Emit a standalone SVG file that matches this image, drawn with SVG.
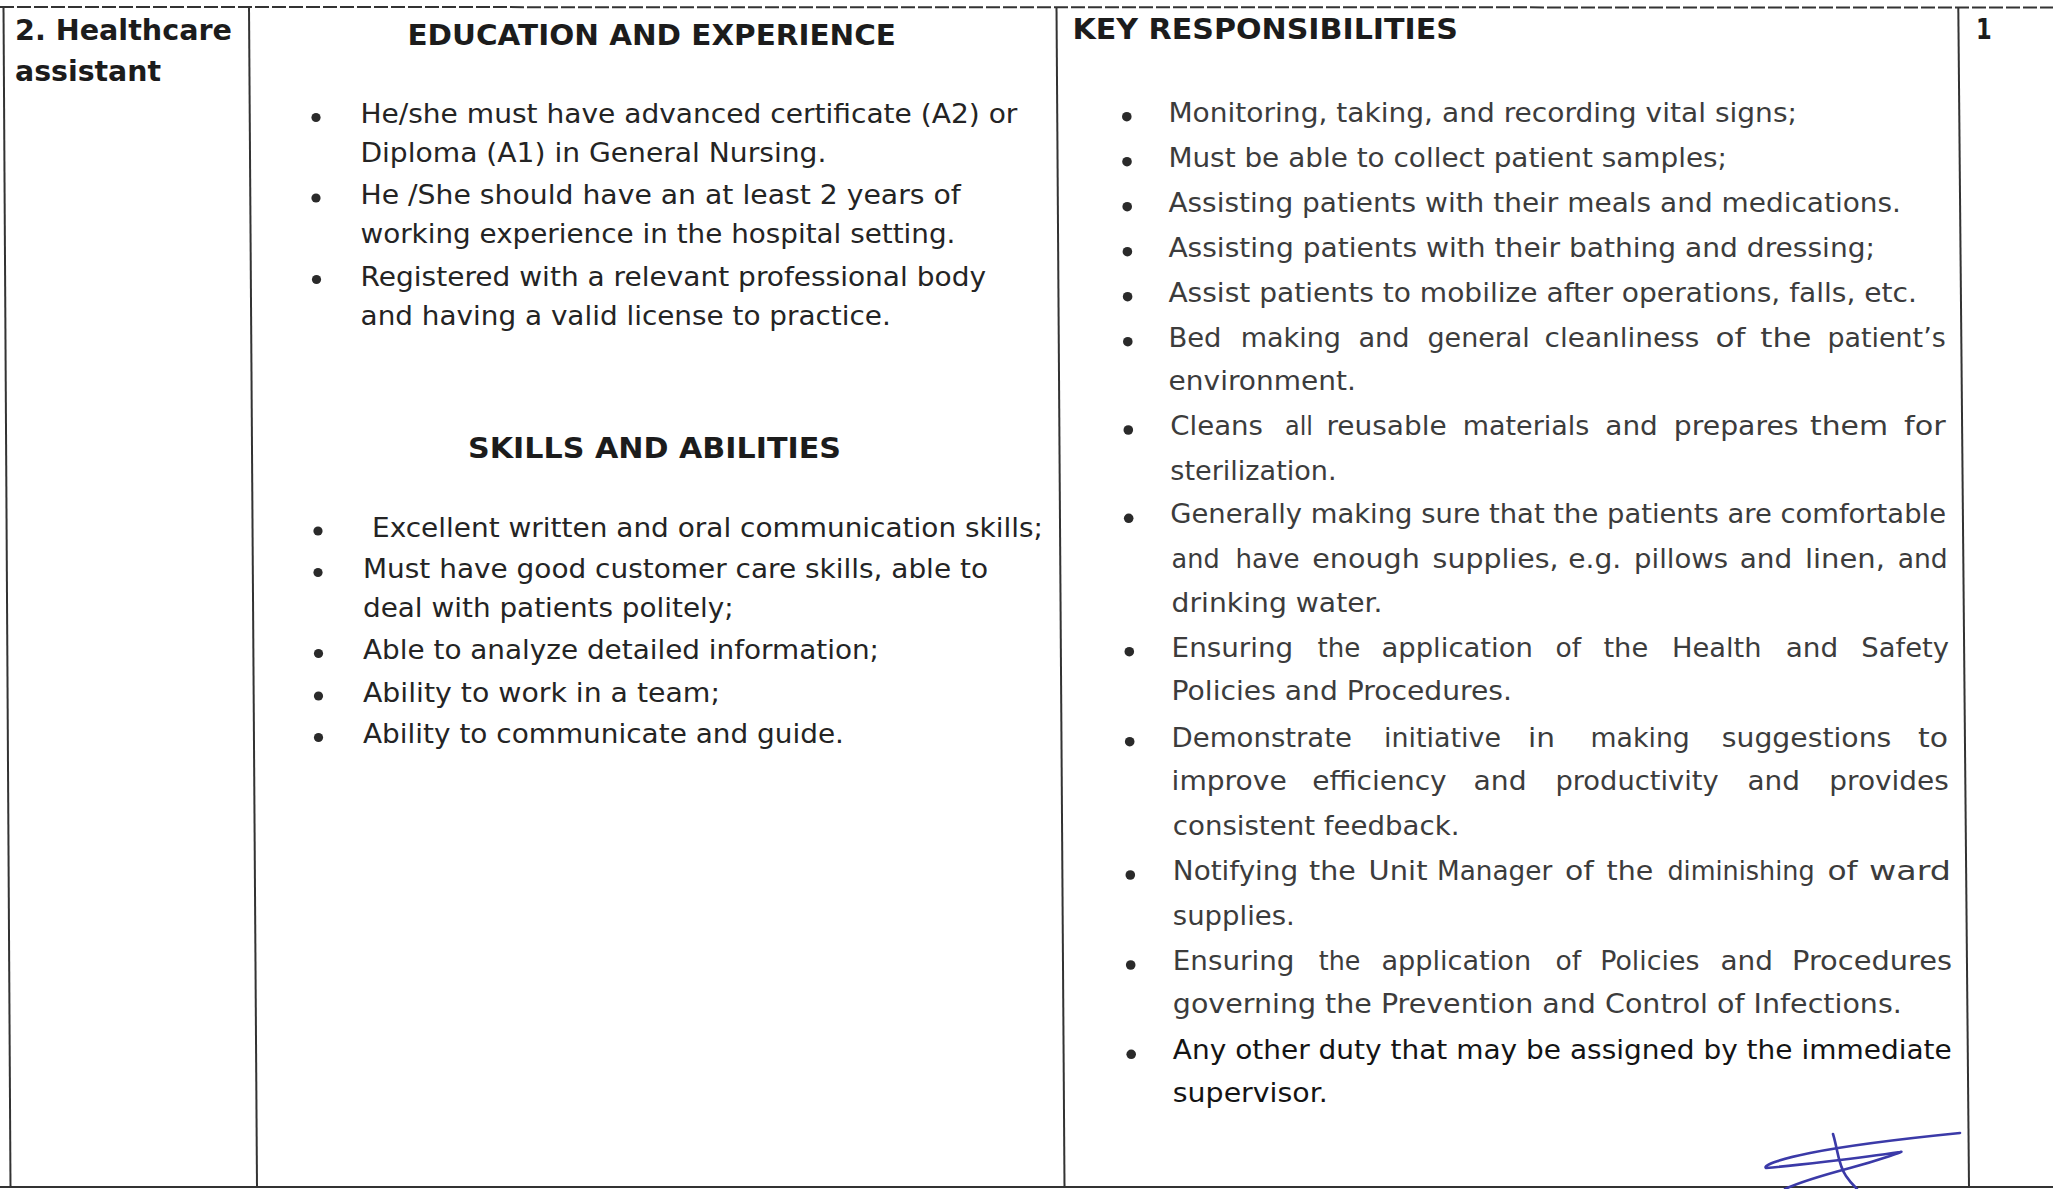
<svg xmlns="http://www.w3.org/2000/svg" width="2053" height="1189" viewBox="0 0 2053 1189">
<style>
.h{font-family:"DejaVu Sans","Liberation Sans",sans-serif;font-weight:bold;font-size:28px;fill:#1c1c1c}
.b{font-family:"DejaVu Sans","Liberation Sans",sans-serif;font-size:26px;fill:#242424}
.k{fill:#3c3c3c}
.d{fill:#141414}
.bu{fill:#2a2a2a}
.grid{stroke:#333;stroke-width:2;fill:none}
.sig{stroke:#3b3aa8;stroke-width:2.6;fill:none;stroke-linecap:round;stroke-linejoin:round}
</style>
<rect width="2053" height="1189" fill="#fff"/>
<g id="table-grid">
<line class="grid" x1="0" y1="7" x2="2053" y2="7.5" stroke="#555" stroke-dasharray="14 3"/>
<line class="grid" x1="0" y1="1187" x2="2053" y2="1187" stroke-width="3" stroke="#444"/>
<line class="grid" x1="3.5" y1="7" x2="10.5" y2="1187"/>
<line class="grid" x1="249" y1="7" x2="257" y2="1187"/>
<line class="grid" x1="1056.5" y1="7" x2="1064.5" y2="1187"/>
<line class="grid" x1="1958.3" y1="7" x2="1969" y2="1187"/>
</g>
<g id="cell-position">
<text class="h" x="15" y="40" textLength="217" lengthAdjust="spacingAndGlyphs">2. Healthcare</text>
<text class="h" x="15" y="81" textLength="146" lengthAdjust="spacingAndGlyphs">assistant</text>
</g>
<g id="cell-education">
<text class="h" x="407.5" y="45.3" textLength="488.5" lengthAdjust="spacingAndGlyphs">EDUCATION AND EXPERIENCE</text>
<circle class="bu" cx="316" cy="117.5" r="4.6"/>
<circle class="bu" cx="316" cy="198" r="4.6"/>
<circle class="bu" cx="316.5" cy="279.5" r="4.6"/>
<text class="b" x="360.4" y="123.3" textLength="657" lengthAdjust="spacingAndGlyphs">He/she must have advanced certificate (A2) or</text>
<text class="b" x="360.4" y="162.3" textLength="466" lengthAdjust="spacingAndGlyphs">Diploma (A1) in General Nursing.</text>
<text class="b" x="360.4" y="204" textLength="600.4" lengthAdjust="spacingAndGlyphs">He /She should have an at least 2 years of</text>
<text class="b" x="360.4" y="243" textLength="595" lengthAdjust="spacingAndGlyphs">working experience in the hospital setting.</text>
<text class="b" x="360.6" y="285.7" textLength="625.4" lengthAdjust="spacingAndGlyphs">Registered with a relevant professional body</text>
<text class="b" x="360.6" y="325" textLength="530.2" lengthAdjust="spacingAndGlyphs">and having a valid license to practice.</text>
</g>
<g id="cell-skills">
<text class="h" x="468" y="458.3" textLength="373" lengthAdjust="spacingAndGlyphs">SKILLS AND ABILITIES</text>
<circle class="bu" cx="318" cy="531" r="4.6"/>
<circle class="bu" cx="318" cy="572.5" r="4.6"/>
<circle class="bu" cx="318.5" cy="653.5" r="4.6"/>
<circle class="bu" cx="318.5" cy="696" r="4.6"/>
<circle class="bu" cx="318.5" cy="737.5" r="4.6"/>
<text class="b" x="372" y="536.7" textLength="671" lengthAdjust="spacingAndGlyphs">Excellent written and oral communication skills;</text>
<text class="b" x="363" y="578.3" textLength="625" lengthAdjust="spacingAndGlyphs">Must have good customer care skills, able to</text>
<text class="b" x="363" y="616.7" textLength="370.7" lengthAdjust="spacingAndGlyphs">deal with patients politely;</text>
<text class="b" x="363" y="659.3" textLength="516" lengthAdjust="spacingAndGlyphs">Able to analyze detailed information;</text>
<text class="b" x="363" y="701.7" textLength="357" lengthAdjust="spacingAndGlyphs">Ability to work in a team;</text>
<text class="b" x="363" y="743.3" textLength="481" lengthAdjust="spacingAndGlyphs">Ability to communicate and guide.</text>
</g>
<g id="cell-responsibilities">
<text class="h" x="1072.4" y="39.3" textLength="385.6" lengthAdjust="spacingAndGlyphs">KEY RESPONSIBILITIES</text>
<g class="bu">
<circle cx="1126.8" cy="116.7" r="4.8"/>
<circle cx="1127" cy="161.7" r="4.8"/>
<circle cx="1127.2" cy="206.7" r="4.8"/>
<circle cx="1127.4" cy="251.7" r="4.8"/>
<circle cx="1127.6" cy="296.7" r="4.8"/>
<circle cx="1127.8" cy="341.7" r="4.8"/>
<circle cx="1128.3" cy="430" r="4.8"/>
<circle cx="1128.7" cy="518.3" r="4.8"/>
<circle cx="1129.3" cy="651.7" r="4.8"/>
<circle cx="1129.7" cy="741.7" r="4.8"/>
<circle cx="1130.3" cy="875" r="4.8"/>
<circle cx="1130.7" cy="965" r="4.8"/>
<circle cx="1131.2" cy="1054.3" r="4.8"/>
</g>
<text class="b k" x="1168.4" y="121.7" textLength="628.6" lengthAdjust="spacingAndGlyphs">Monitoring, taking, and recording vital signs;</text>
<text class="b k" x="1168.4" y="166.7" textLength="558.6" lengthAdjust="spacingAndGlyphs">Must be able to collect patient samples;</text>
<text class="b k" x="1168.4" y="211.7" textLength="732.6" lengthAdjust="spacingAndGlyphs">Assisting patients with their meals and medications.</text>
<text class="b k" x="1168.4" y="256.7" textLength="706.6" lengthAdjust="spacingAndGlyphs">Assisting patients with their bathing and dressing;</text>
<text class="b k" x="1168.4" y="301.7" textLength="748.6" lengthAdjust="spacingAndGlyphs">Assist patients to mobilize after operations, falls, etc.</text>
<text class="b k" y="346.7"><tspan x="1168.4" textLength="53.1" lengthAdjust="spacingAndGlyphs">Bed</tspan> <tspan x="1240.7" textLength="100.3" lengthAdjust="spacingAndGlyphs">making</tspan> <tspan x="1358.4" textLength="51.2" lengthAdjust="spacingAndGlyphs">and</tspan> <tspan x="1427.5" textLength="102.3" lengthAdjust="spacingAndGlyphs">general</tspan> <tspan x="1544.6" textLength="154.8" lengthAdjust="spacingAndGlyphs">cleanliness</tspan> <tspan x="1715.4" textLength="30" lengthAdjust="spacingAndGlyphs">of</tspan> <tspan x="1760.2" textLength="51.1" lengthAdjust="spacingAndGlyphs">the</tspan> <tspan x="1827.5" textLength="118.2" lengthAdjust="spacingAndGlyphs">patient’s</tspan></text>
<text class="b k" x="1168.6" y="390" textLength="187.2" lengthAdjust="spacingAndGlyphs">environment.</text>
<text class="b k" y="435"><tspan x="1170.3" textLength="92.7" lengthAdjust="spacingAndGlyphs">Cleans</tspan> <tspan x="1285" textLength="28" lengthAdjust="spacingAndGlyphs">all</tspan> <tspan x="1326.4" textLength="120.3" lengthAdjust="spacingAndGlyphs">reusable</tspan> <tspan x="1462.7" textLength="126.6" lengthAdjust="spacingAndGlyphs">materials</tspan> <tspan x="1605.3" textLength="52.5" lengthAdjust="spacingAndGlyphs">and</tspan> <tspan x="1673.8" textLength="124.8" lengthAdjust="spacingAndGlyphs">prepares</tspan> <tspan x="1810" textLength="78" lengthAdjust="spacingAndGlyphs">them</tspan> <tspan x="1904" textLength="41.7" lengthAdjust="spacingAndGlyphs">for</tspan></text>
<text class="b k" x="1170.3" y="480" textLength="166.3" lengthAdjust="spacingAndGlyphs">sterilization.</text>
<text class="b k" x="1170.3" y="523.3" textLength="775.7" lengthAdjust="spacingAndGlyphs">Generally making sure that the patients are comfortable</text>
<text class="b k" y="568.3"><tspan x="1171.6" textLength="48" lengthAdjust="spacingAndGlyphs">and</tspan> <tspan x="1235.5" textLength="64" lengthAdjust="spacingAndGlyphs">have</tspan> <tspan x="1312.3" textLength="107.5" lengthAdjust="spacingAndGlyphs">enough</tspan> <tspan x="1432.6" textLength="126" lengthAdjust="spacingAndGlyphs">supplies,</tspan> <tspan x="1568.2" textLength="53" lengthAdjust="spacingAndGlyphs">e.g.</tspan> <tspan x="1634.1" textLength="94" lengthAdjust="spacingAndGlyphs">pillows</tspan> <tspan x="1739.7" textLength="52.5" lengthAdjust="spacingAndGlyphs">and</tspan> <tspan x="1804.9" textLength="80" lengthAdjust="spacingAndGlyphs">linen,</tspan> <tspan x="1897.7" textLength="50" lengthAdjust="spacingAndGlyphs">and</tspan></text>
<text class="b k" x="1171.6" y="611.7" textLength="211" lengthAdjust="spacingAndGlyphs">drinking water.</text>
<text class="b k" y="656.7"><tspan x="1171.6" textLength="121.6" lengthAdjust="spacingAndGlyphs">Ensuring</tspan> <tspan x="1317.4" textLength="42.9" lengthAdjust="spacingAndGlyphs">the</tspan> <tspan x="1381.4" textLength="151.6" lengthAdjust="spacingAndGlyphs">application</tspan> <tspan x="1555.4" textLength="25.6" lengthAdjust="spacingAndGlyphs">of</tspan> <tspan x="1603.4" textLength="44.8" lengthAdjust="spacingAndGlyphs">the</tspan> <tspan x="1671.9" textLength="89.6" lengthAdjust="spacingAndGlyphs">Health</tspan> <tspan x="1785.7" textLength="52.5" lengthAdjust="spacingAndGlyphs">and</tspan> <tspan x="1861.3" textLength="87.7" lengthAdjust="spacingAndGlyphs">Safety</tspan></text>
<text class="b k" x="1171.6" y="700" textLength="340.4" lengthAdjust="spacingAndGlyphs">Policies and Procedures.</text>
<text class="b k" y="746.7"><tspan x="1171.6" textLength="180.4" lengthAdjust="spacingAndGlyphs">Demonstrate</tspan> <tspan x="1384" textLength="117.1" lengthAdjust="spacingAndGlyphs">initiative</tspan> <tspan x="1528" textLength="27" lengthAdjust="spacingAndGlyphs">in</tspan> <tspan x="1590.6" textLength="99.2" lengthAdjust="spacingAndGlyphs">making</tspan> <tspan x="1721.8" textLength="169.5" lengthAdjust="spacingAndGlyphs">suggestions</tspan> <tspan x="1918" textLength="30" lengthAdjust="spacingAndGlyphs">to</tspan></text>
<text class="b k" y="790"><tspan x="1171.6" textLength="115.1" lengthAdjust="spacingAndGlyphs">improve</tspan> <tspan x="1312.3" textLength="134.4" lengthAdjust="spacingAndGlyphs">efficiency</tspan> <tspan x="1473.5" textLength="53.1" lengthAdjust="spacingAndGlyphs">and</tspan> <tspan x="1555.4" textLength="163.2" lengthAdjust="spacingAndGlyphs">productivity</tspan> <tspan x="1747.4" textLength="52.5" lengthAdjust="spacingAndGlyphs">and</tspan> <tspan x="1829.3" textLength="119.6" lengthAdjust="spacingAndGlyphs">provides</tspan></text>
<text class="b k" x="1172.8" y="835" textLength="286.7" lengthAdjust="spacingAndGlyphs">consistent feedback.</text>
<text class="b k" y="880"><tspan x="1172.8" textLength="125.4" lengthAdjust="spacingAndGlyphs">Notifying</tspan> <tspan x="1309.1" textLength="46.7" lengthAdjust="spacingAndGlyphs">the</tspan> <tspan x="1368.6" textLength="58.9" lengthAdjust="spacingAndGlyphs">Unit</tspan> <tspan x="1437" textLength="115.2" lengthAdjust="spacingAndGlyphs">Manager</tspan> <tspan x="1565" textLength="28.8" lengthAdjust="spacingAndGlyphs">of</tspan> <tspan x="1606.6" textLength="46.7" lengthAdjust="spacingAndGlyphs">the</tspan> <tspan x="1667.4" textLength="147.2" lengthAdjust="spacingAndGlyphs">diminishing</tspan> <tspan x="1827.4" textLength="30.1" lengthAdjust="spacingAndGlyphs">of</tspan> <tspan x="1869" textLength="81.9" lengthAdjust="spacingAndGlyphs">ward</tspan></text>
<text class="b k" x="1172.8" y="925" textLength="122" lengthAdjust="spacingAndGlyphs">supplies.</text>
<text class="b k" y="970"><tspan x="1172.8" textLength="121.6" lengthAdjust="spacingAndGlyphs">Ensuring</tspan> <tspan x="1318.7" textLength="41.6" lengthAdjust="spacingAndGlyphs">the</tspan> <tspan x="1381.4" textLength="149.7" lengthAdjust="spacingAndGlyphs">application</tspan> <tspan x="1555.4" textLength="25.6" lengthAdjust="spacingAndGlyphs">of</tspan> <tspan x="1600.2" textLength="99.2" lengthAdjust="spacingAndGlyphs">Policies</tspan> <tspan x="1720.5" textLength="52.5" lengthAdjust="spacingAndGlyphs">and</tspan> <tspan x="1792" textLength="160" lengthAdjust="spacingAndGlyphs">Procedures</tspan></text>
<text class="b k" x="1172.8" y="1013.3" textLength="729" lengthAdjust="spacingAndGlyphs">governing the Prevention and Control of Infections.</text>
<text class="b d" x="1172.8" y="1059.3" textLength="779" lengthAdjust="spacingAndGlyphs">Any other duty that may be assigned by the immediate</text>
<text class="b d" x="1172.8" y="1101.7" textLength="155" lengthAdjust="spacingAndGlyphs">supervisor.</text>
</g>
<g id="cell-grade">
<text class="h" x="1976" y="39.3" textLength="15.7" lengthAdjust="spacingAndGlyphs">1</text>
</g>
<g id="signature">
<path class="sig" d="M1960,1133 C1900,1139 1850,1145 1810,1153 C1785,1158 1762,1165 1766,1168 C1790,1166 1860,1158 1900,1152 C1908,1150 1880,1160 1850,1168 C1820,1176 1800,1182 1785,1189"/>
<path class="sig" d="M1833,1134 C1838,1150 1838,1165 1846,1176 C1850,1182 1854,1186 1857,1189"/>
</g>
</svg>
